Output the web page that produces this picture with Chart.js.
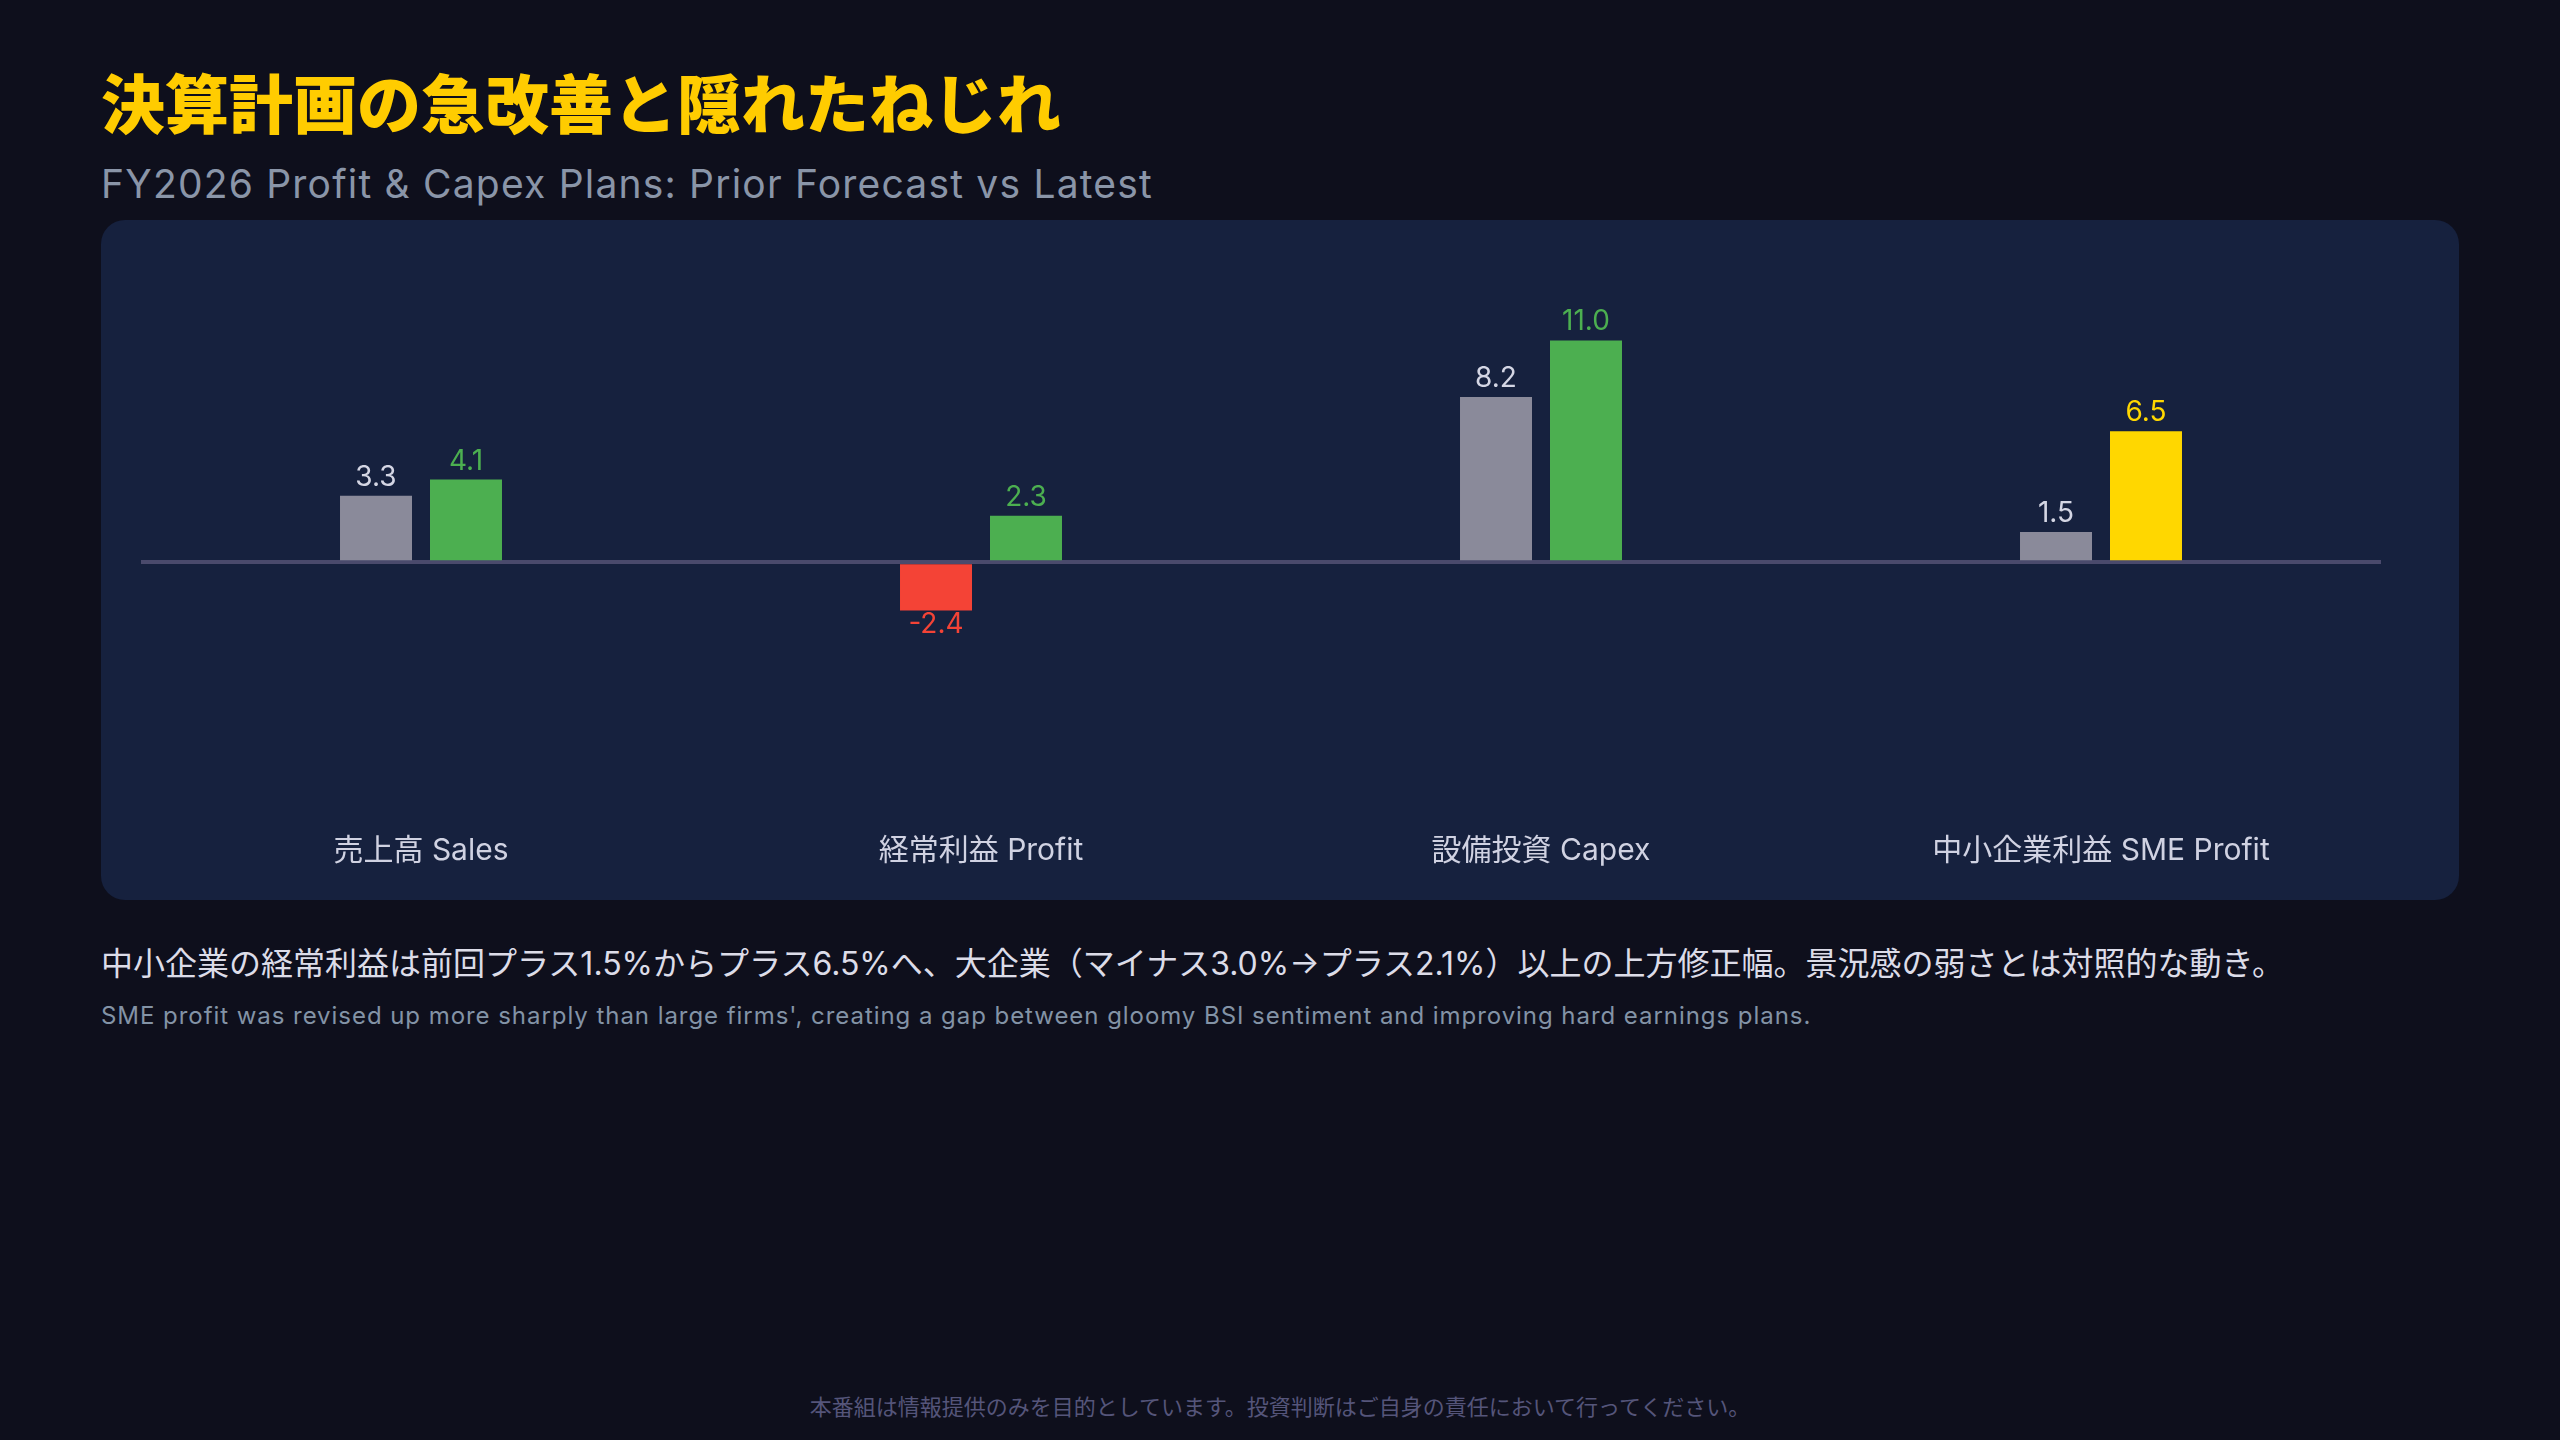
<!DOCTYPE html>
<html lang="ja">
<head>
<meta charset="utf-8">
<title>決算計画の急改善と隠れたねじれ</title>
<script src="https://cdn.jsdelivr.net/npm/chart.js@4.4.1/dist/chart.umd.min.js"></script>
<style>
    html, body {
        margin: 0;
        padding: 0;
        width: 2560px;
        height: 1440px;
        background: #0e0f1c;
        overflow: hidden;
        font-family: Inter, "Noto Sans CJK JP", sans-serif;
    }
    .txt {
        position: absolute;
        margin: 0;
        line-height: 1;
        white-space: nowrap;
    }
    #title {
        left: 101px;
        top: 68px;
        font-size: 64px;
        font-weight: 900;
        color: #ffcc00;
        font-family: "Noto Sans CJK JP", sans-serif;
    }
    #subtitle {
        left: 101px;
        top: 164px;
        font-size: 39px;
        letter-spacing: 1.2px;
        font-weight: 400;
        color: #8a95a8;
    }
    #card {
        position: absolute;
        left: 101px;
        top: 220px;
        width: 2358px;
        height: 680px;
        border-radius: 24px;
        background: #16213e;
    }
    #card canvas {
        position: absolute;
        left: 0;
        top: 0;
    }
    #caption-ja {
        left: 101px;
        top: 948px;
        font-size: 32px;
        font-weight: 400;
        color: #dcdce8;
    }
    #caption-en {
        left: 101px;
        top: 1004px;
        font-size: 24px;
        letter-spacing: 0.95px;
        color: #8393a6;
    }
    #footer {
        left: 0;
        width: 2560px;
        text-align: center;
        top: 1396px;
        font-size: 22px;
        color: #55557a;
    }
</style>
</head>
<body>
    <h1 class="txt" id="title">決算計画の急改善と隠れたねじれ</h1>
    <div class="txt" id="subtitle">FY2026 Profit &amp; Capex Plans: Prior Forecast vs Latest</div>

    <div id="card">
        <canvas id="planChart" width="2358" height="690"></canvas>
    </div>

    <div class="txt" id="caption-ja">中小企業の経常利益は前回プラス1.5%からプラス6.5%へ、大企業（マイナス3.0%→プラス2.1%）以上の上方修正幅。景況感の弱さとは対照的な動き。</div>
    <div class="txt" id="caption-en">SME profit was revised up more sharply than large firms', creating a gap between gloomy BSI sentiment and improving hard earnings plans.</div>
    <div class="txt" id="footer">本番組は情報提供のみを目的としています。投資判断はご自身の責任において行ってください。</div>

<script>
// Data (% change, FY2026 plans)
const categories = ['売上高 Sales', '経常利益 Profit', '設備投資 Capex', '中小企業利益 SME Profit'];
const priorForecast = [3.3, -2.4, 8.2, 1.5];
const latestForecast = [4.1, 2.3, 11.0, 6.5];
const yMin = -11.6;
const yMax = 14;
const highlightIndex = 3; // SME profit

// Colours
const GREY = '#8a8a9a';
const GREEN = '#4caf50';
const RED = '#f44336';
const YELLOW = '#ffd700';
const GREY_LABEL = '#d4d6e4';
const ZERO_LINE = '#4a4a6c';
const FONT = 'Inter, "Noto Sans CJK JP", sans-serif';

function priorColor(ctx) {
    return ctx.raw < 0 ? RED : GREY;
}

function latestColor(ctx) {
    return ctx.dataIndex === highlightIndex ? YELLOW : GREEN;
}

// Value labels above (or below) each bar
const valueLabels = {
    id: 'valueLabels',
    afterDatasetsDraw(chart) {
        const { ctx } = chart;
        ctx.save();
        ctx.font = '28px ' + FONT;
        ctx.textAlign = 'center';
        ctx.textBaseline = 'alphabetic';
        chart.data.datasets.forEach((ds, di) => {
            const meta = chart.getDatasetMeta(di);
            meta.data.forEach((bar, i) => {
                const v = ds.data[i];
                let color;
                if (di === 0) color = v < 0 ? RED : GREY_LABEL;
                else color = i === highlightIndex ? YELLOW : GREEN;
                ctx.fillStyle = color;
                const y = v < 0 ? bar.y + 22 : bar.y - 10;
                ctx.fillText(v.toFixed(1), bar.x, y);
            });
        });
        ctx.restore();
    }
};

const ctx = document.getElementById('planChart').getContext('2d');
new Chart(ctx, {
    type: 'bar',
    data: {
        labels: categories,
        datasets: [
            {
                label: 'Prior Forecast',
                data: priorForecast,
                backgroundColor: priorColor,
                borderWidth: 0
            },
            {
                label: 'Latest',
                data: latestForecast,
                backgroundColor: latestColor,
                borderWidth: 0
            }
        ]
    },
    options: {
        responsive: false,
        devicePixelRatio: 1,
        animation: false,
        categoryPercentage: 0.3214,
        barPercentage: 0.8,
        layout: {
            padding: { left: 40, right: 78, top: 60, bottom: 4 }
        },
        plugins: {
            legend: { display: false },
            tooltip: { enabled: false }
        },
        scales: {
            x: {
                grid: { display: false, drawTicks: false },
                border: { display: false },
                ticks: {
                    color: '#d0d2e2',
                    font: { family: FONT, size: 30 },
                    padding: 37,
                    maxRotation: 0
                }
            },
            y: {
                min: yMin,
                max: yMax,
                border: { display: false },
                grid: {
                    drawTicks: false,
                    lineWidth: 4,
                    color: c => (c.tick && c.tick.value === 0 ? ZERO_LINE : 'transparent')
                },
                ticks: { display: false, stepSize: 2 }
            }
        }
    },
    plugins: [valueLabels]
});
</script>
</body>
</html>
